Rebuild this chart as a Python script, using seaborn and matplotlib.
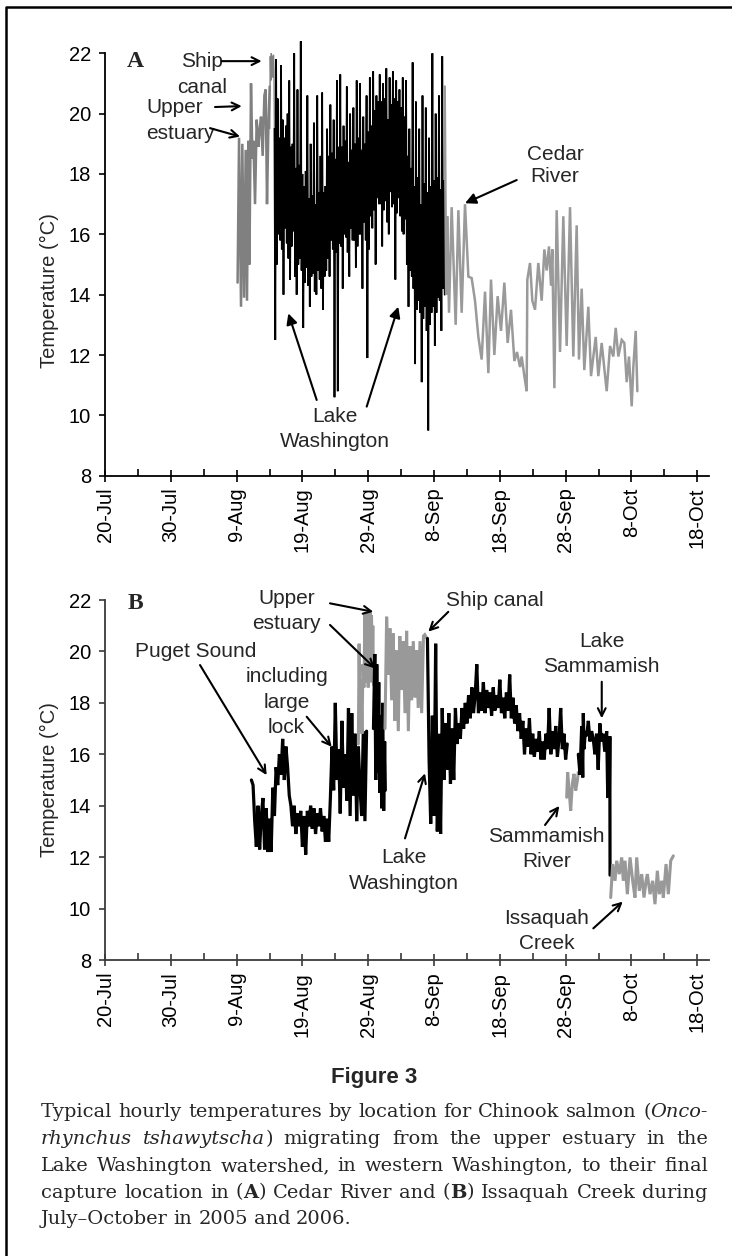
import re
import numpy as np
import matplotlib
matplotlib.use("Agg")
import matplotlib.pyplot as plt
import seaborn as sns
from matplotlib.lines import Line2D

sns.set_style("ticks")
plt.rcParams['font.family'] = ['Liberation Sans', 'DejaVu Sans']

# ---------------- axis values (days since 20-Jul) ----------------
tick_days = [0, 10, 20, 30, 40, 50, 60, 70, 80, 90]
tick_labels = ["20-Jul", "30-Jul", "9-Aug", "19-Aug", "29-Aug",
               "8-Sep", "18-Sep", "28-Sep", "8-Oct", "18-Oct"]
minor_days = [5, 15, 25, 35, 45, 55, 65, 75, 85]
y_ticks = [8, 10, 12, 14, 16, 18, 20, 22]

# ---------------- Panel A (Cedar River fish) ----------------
A_estuary_day = [20.15, 20.37, 20.67, 20.87, 21.13, 21.38, 21.58, 21.79, 21.95, 22.19,
                 22.40, 22.55, 22.80, 23.05, 23.31, 23.51, 23.71, 23.96, 24.22, 24.42,
                 24.62, 24.83, 25.03]
A_estuary_temp = [14.4, 19.2, 13.6, 19.0, 13.9, 18.8, 13.8, 19.1, 15.0, 21.0,
                  18.5, 19.1, 17.0, 19.8, 18.9, 19.5, 19.9, 18.6, 20.6, 20.8,
                  17.0, 19.6, 20.9]

A_canal_day = [25.03, 25.12, 25.20, 25.28, 25.36, 25.44, 25.52, 25.60, 25.68, 25.75]
A_canal_temp = [19.5, 21.9, 21.1, 22.0, 21.3, 21.9, 21.2, 21.95, 21.4, 19.5]

# Lake Washington, 3-hourly samples starting day 25.75
A_lake_start = 25.75
A_lake_per_day = 8
A_lake_temp = [
    19.5, 12.5, 21.8, 15.0, 20.5, 16.0, 19.2, 15.8,
    21.6, 15.5, 19.8, 14.0, 19.2, 16.2, 19.6, 15.7,
    20.0, 15.2, 21.1, 14.5, 18.9, 15.6, 19.0, 16.1,
    22.0, 14.6, 18.2, 14.0, 20.8, 15.0, 18.3, 15.2,
    22.4, 14.8, 18.0, 12.9, 17.6, 14.4, 18.1, 14.9,
    20.6, 14.3, 17.2, 13.6, 19.0, 14.6, 17.3, 14.7,
    19.7, 14.1, 17.0, 14.0, 20.6, 14.8, 17.4, 14.5,
    18.6, 14.2, 20.7, 13.5, 17.4, 14.6, 17.6, 14.8,
    19.5, 15.2, 18.6, 14.6, 20.3, 15.8, 18.7, 15.5,
    19.8, 10.6, 18.5, 15.4, 21.1, 10.8, 18.9, 15.7,
    21.3, 15.6, 18.9, 14.2, 19.6, 16.0, 19.1, 15.9,
    20.9, 15.4, 18.4, 14.6, 20.0, 16.2, 18.8, 15.8,
    20.2, 15.8, 19.0, 14.9, 21.1, 15.6, 19.2, 16.0,
    21.0, 16.0, 18.8, 14.2, 19.9, 16.4, 19.0, 15.8,
    20.6, 11.9, 19.4, 15.5, 21.2, 16.6, 19.6, 16.2,
    21.4, 16.8, 20.1, 15.0, 20.6, 17.2, 20.4, 17.0,
    21.3, 17.0, 20.4, 15.6, 21.0, 16.8, 20.5, 17.1,
    21.5, 16.4, 19.8, 16.0, 21.2, 17.4, 20.3, 16.9,
    21.4, 17.0, 20.5, 14.5, 21.1, 16.7, 20.4, 17.2,
    20.8, 16.6, 20.2, 16.1, 21.2, 16.0, 19.9, 16.5,
    21.1, 15.0, 18.6, 13.6, 19.5, 14.8, 18.2, 14.6,
    21.7, 14.2, 17.6, 11.7, 20.4, 13.5, 17.9, 13.8,
    19.5, 13.4, 17.0, 11.1, 20.6, 13.2, 17.7, 13.6,
    20.2, 12.8, 17.4, 9.5, 19.2, 13.0, 17.6, 13.4,
    22.0, 13.6, 17.8, 12.3, 20.0, 13.4, 17.9, 13.9,
    20.6, 13.8, 17.5, 12.8, 21.9, 14.2, 17.8, 14.0,
]

A_cedar_day = [51.62, 51.85, 52.00, 52.28, 52.68, 53.29, 53.70, 54.20, 54.71, 55.22,
               55.72, 56.23, 56.74, 57.24, 57.75, 58.26, 58.66, 59.17, 59.67, 60.18,
               60.69, 61.19, 61.70, 62.21, 62.61, 63.07, 63.32, 63.73, 64.08, 64.18,
               64.59, 64.94, 65.35, 65.85, 66.36, 66.77, 67.12, 67.47, 67.78, 67.98,
               68.29, 68.64, 69.15, 69.65, 70.16, 70.67, 71.17, 71.68, 72.03, 72.44,
               72.84, 73.45, 73.86, 74.57, 74.97, 75.48, 76.24, 76.75, 77.25, 77.61,
               78.01, 78.52, 78.92, 79.28, 79.63, 80.04, 80.29, 80.65, 80.90]
A_cedar_temp = [20.9, 14.0, 16.6, 13.4, 16.9, 13.0, 16.8, 13.4, 17.0, 14.6,
                14.55, 13.8, 12.6, 11.85, 14.1, 11.4, 14.5, 12.0, 13.95, 12.8,
                14.4, 12.4, 13.5, 11.8, 12.1, 11.6, 11.95, 11.3, 10.8, 14.5,
                15.05, 13.8, 13.5, 15.05, 13.8, 15.5, 14.8, 15.6, 14.3, 15.5,
                10.9, 16.8, 12.1, 16.6, 12.3, 16.9, 11.95, 16.3, 11.85, 14.2,
                11.5, 13.6, 11.3, 12.6, 11.3, 12.4, 10.8, 12.3, 11.95, 12.9,
                11.95, 12.5, 12.4, 11.1, 11.95, 10.3, 11.6, 12.8, 10.8]

# ---------------- Panel B (Issaquah Creek fish) ----------------
# Puget Sound incl. large lock, 6-hourly samples starting day 22.25
B_puget_start = 22.25
B_puget_per_day = 4
B_puget_temp = [
    15.0, 14.8, 13.4, 12.4, 14.0, 12.3, 13.6, 14.3, 12.3, 13.9,
    12.2, 13.5, 12.2, 14.7, 13.6, 15.5, 14.8, 16.0, 15.2, 16.6,
    15.0, 16.3, 15.5, 14.4, 14.0, 13.2, 14.0, 12.9, 13.7, 13.2,
    13.8, 12.4, 13.6, 12.1, 13.8, 13.2, 14.0, 13.1, 13.9, 12.9,
    13.7, 13.2, 13.9, 13.0, 13.6, 12.6, 13.5, 12.6, 14.3, 16.3,
    14.6, 18.0, 15.0, 16.2, 13.7, 17.3, 14.7, 16.0, 14.2, 17.8,
    13.6, 17.6, 14.4, 16.8, 13.4, 16.3, 14.7, 13.6, 16.9, 13.4,
    16.9,
]

B_estuary1_day = [38.50, 38.62, 38.75, 38.90, 39.05, 39.20, 39.35, 39.50, 39.60, 39.70,
                  39.80, 39.90, 40.00, 40.10, 40.20, 40.30, 40.40, 40.50, 40.60, 40.70,
                  40.80]
B_estuary1_temp = [16.4, 20.3, 17.1, 18.9, 16.8, 19.5, 18.6, 21.5, 18.8, 21.5,
                   19.0, 21.5, 18.6, 21.4, 19.2, 21.5, 18.8, 21.4, 19.5, 21.0,
                   18.7]

B_estuary_black_day = [40.80, 41.00, 41.15, 41.30, 41.45, 41.60, 41.75, 41.90, 42.05, 42.20,
                       42.35, 42.50, 42.60]
B_estuary_black_temp = [17.0, 19.9, 15.0, 19.5, 15.3, 18.8, 14.5, 17.5, 13.9, 18.0,
                        13.8, 16.5, 14.6]

B_estuary2_day = [42.55, 42.80, 43.05, 43.30, 43.56, 43.80, 44.07, 44.30, 44.57, 44.80,
                  45.08, 45.33, 45.59, 45.84, 46.10, 46.35, 46.60, 46.85, 47.10, 47.36,
                  47.60, 47.87, 48.12, 48.40, 48.60, 48.80, 49.00]
B_estuary2_temp = [17.0, 21.35, 19.1, 20.9, 18.1, 20.7, 17.3, 20.05, 16.9, 20.6,
                   18.5, 20.4, 17.6, 20.8, 16.9, 20.2, 18.1, 20.4, 18.2, 20.05,
                   17.8, 20.4, 17.6, 20.6, 20.65, 20.55, 20.5]

# Lake Washington, 6-hourly samples starting day 49.0
B_lakewa_start = 49.0
B_lakewa_per_day = 4
B_lakewa_temp = [
    20.5, 15.8, 13.3, 17.5, 13.6, 20.3, 13.0, 16.8, 12.9, 17.8,
    15.0, 17.2, 15.4, 17.6, 14.85, 17.0, 15.0, 17.8, 16.4, 17.2,
    16.6, 17.8, 17.0, 18.0, 17.2, 18.3, 17.4, 18.6, 17.6, 18.3,
    19.5, 17.6, 18.4, 17.7, 18.8, 17.6, 18.5, 17.8, 18.4, 17.5,
    18.6, 17.7, 18.3, 17.8, 18.9, 17.6, 18.2, 17.4, 18.4, 17.7,
    19.1, 17.4, 18.2, 17.2, 17.9, 16.9, 17.6, 16.6, 17.3, 16.0,
    17.0, 16.3, 17.4, 16.0, 16.8, 15.9, 16.6, 16.1, 16.9, 15.8,
    16.5, 15.8, 16.8, 16.2, 17.8, 16.0, 16.9, 16.2, 17.1, 15.9,
    16.6, 17.8, 16.2, 16.8, 15.8, 16.4,
]

B_sammR_day = [70.16, 70.31, 70.57, 70.77, 71.02, 71.27, 71.53, 71.78, 71.93]
B_sammR_temp = [14.33, 15.3, 14.46, 13.81, 14.85, 15.24, 14.59, 14.98, 15.3]

B_lakeS_day = [71.93, 72.19, 72.44, 72.60, 72.69, 72.80, 73.00, 73.20, 73.45, 73.70,
               73.95, 74.20, 74.45, 74.70, 74.95, 75.20, 75.45, 75.70, 75.95, 76.24,
               76.40, 76.50, 76.65, 76.72, 76.75]
B_lakeS_temp = [16.0, 15.2, 17.1, 15.1, 17.6, 16.2, 16.9, 16.7, 17.3, 16.5,
                16.9, 16.6, 16.0, 16.8, 15.4, 17.2, 16.5, 16.8, 16.1, 16.9,
                14.3, 16.5, 14.5, 16.7, 11.3]

B_issaquah_day = [76.85, 77.15, 77.51, 77.76, 78.16, 78.52, 78.77, 79.03, 79.38, 79.79,
                  80.19, 80.54, 80.80, 81.20, 81.56, 81.91, 82.22, 82.42, 82.83, 83.23,
                  83.58, 83.94, 84.24, 84.60, 84.85, 85.26, 85.61, 85.97, 86.37]
B_issaquah_temp = [10.43, 11.73, 11.08, 11.86, 11.34, 11.99, 11.08, 11.86, 10.56, 11.99,
                   11.08, 10.43, 11.99, 10.69, 11.34, 10.43, 11.08, 11.34, 10.56, 11.08,
                   10.17, 11.47, 10.56, 11.08, 10.43, 11.73, 10.56, 11.86, 12.05]

caption_lines = [
    "Typical hourly temperatures by location for Chinook salmon (*Onco-*",
    "*rhynchus* *tshawytscha*) migrating from the upper estuary in the",
    "Lake Washington watershed, in western Washington, to their final",
    "capture location in (**A**) Cedar River and (**B**) Issaquah Creek during",
    "July–October in 2005 and 2006.",
]

# ---------------- figure ----------------
W, H = 732, 1256
fig = plt.figure(figsize=(W / 100, H / 100), dpi=100)
fig.patch.set_facecolor("white")

X_LEFT, X_RIGHT = 105, 709.4
XMAX = 91.85
YMIN, YMAX = 8, 22.7


def make_axes(y8, y22):
    ppd = (y8 - y22) / 14.0
    ytop = y8 - (YMAX - YMIN) * ppd
    ax = fig.add_axes([X_LEFT / W, 1 - y8 / H, (X_RIGHT - X_LEFT) / W, (y8 - ytop) / H])
    ax.set_xlim(0, XMAX)
    ax.set_ylim(YMIN, YMAX)
    ax.patch.set_alpha(0)
    return ax


axA = make_axes(475.7, 53.3)
axB = make_axes(960.0, 600.0)


def seg(ax, x, y, color, lw):
    sns.lineplot(x=np.asarray(x, float), y=np.asarray(y, float), ax=ax, color=color,
                 linewidth=lw, estimator=None, sort=False, legend=False,
                 solid_joinstyle='miter')


A_lake_day = A_lake_start + np.arange(len(A_lake_temp)) / A_lake_per_day
B_puget_day = B_puget_start + np.arange(len(B_puget_temp)) / B_puget_per_day
B_lakewa_day = B_lakewa_start + np.arange(len(B_lakewa_temp)) / B_lakewa_per_day

GA = "#808080"
GC = "#9a9a9a"
seg(axA, A_estuary_day, A_estuary_temp, GA, 1.8)
seg(axA, A_canal_day, A_canal_temp, GA, 1.0)
seg(axA, A_lake_day, A_lake_temp, "black", 1.3)
seg(axA, A_cedar_day, A_cedar_temp, GC, 1.8)

GB = "#999999"
seg(axB, B_puget_day, B_puget_temp, "black", 2.3)
seg(axB, B_estuary1_day, B_estuary1_temp, GB, 2.2)
seg(axB, B_estuary_black_day, B_estuary_black_temp, "black", 2.3)
seg(axB, B_estuary2_day, B_estuary2_temp, GB, 2.2)
seg(axB, B_lakewa_day, B_lakewa_temp, "black", 2.3)
seg(axB, B_sammR_day, B_sammR_temp, GB, 2.2)
seg(axB, B_lakeS_day, B_lakeS_temp, "black", 2.3)
seg(axB, B_issaquah_day, B_issaquah_temp, GB, 2.2)

for ax, scol in ((axA, "black"), (axB, "#3a3a3a")):
    ax.spines['top'].set_visible(False)
    ax.spines['right'].set_visible(False)
    ax.spines['left'].set_bounds(8, 22)
    for s in ('left', 'bottom'):
        ax.spines[s].set_linewidth(1.3)
        ax.spines[s].set_color(scol)
    ax.set_xticks(tick_days)
    ax.set_xticklabels(tick_labels, rotation=90)
    ax.set_xticks(minor_days, minor=True)
    ax.set_yticks(y_ticks)
    ax.set_yticklabels([str(v) for v in y_ticks])
    ax.tick_params(axis='x', which='major', direction='inout', length=9, width=1.2,
                   pad=4, labelsize=14.5, colors=scol, labelcolor='black')
    ax.tick_params(axis='x', which='minor', direction='in', length=5, width=1.2, colors=scol)
    ax.tick_params(axis='y', direction='out', length=4, width=1.2, pad=6,
                   labelsize=14.5, colors=scol, labelcolor='black')
    ax.set_xlabel("")
    ax.set_ylabel("")

# y labels
fig.text(49 / W, 1 - 290.8 / H, "Temperature (°C)", rotation=90, ha='center', va='center', fontsize=14.5)
fig.text(49 / W, 1 - 779.5 / H, "Temperature (°C)", rotation=90, ha='center', va='center', fontsize=14.5)

AF = 15
# panel letters
axA.text(4.56, 21.72, "A", family='Liberation Serif', weight='bold', fontsize=17, ha='center', va='center')
axB.text(4.56, 21.87, "B", family='Liberation Serif', weight='bold', fontsize=17, ha='center', va='center')


def label(ax, x, y, s):
    ax.text(x, y, s, fontsize=AF, ha='center', va='center')


def arrow(ax, tail, tip, style='-|>', ms=16):
    ax.annotate("", xy=tip, xytext=tail,
                arrowprops=dict(arrowstyle=style, color='black', lw=1.5,
                                mutation_scale=ms, shrinkA=0, shrinkB=0))


# Panel A annotations
label(axA, 14.70, 21.72, "Ship")
label(axA, 14.70, 20.87, "canal")
arrow(axA, (17.74, 21.74), (23.81, 21.74), '->', 14)
label(axA, 10.64, 20.21, "Upper")
arrow(axA, (16.72, 20.22), (20.78, 20.25), '->', 14)
label(axA, 11.40, 19.35, "estuary")
arrow(axA, (15.96, 19.52), (20.52, 19.24), '->', 14)
label(axA, 68.39, 18.63, "Cedar")
label(axA, 68.39, 17.91, "River")
arrow(axA, (62.57, 17.80), (54.71, 17.03))
label(axA, 34.95, 9.955, "Lake")
label(axA, 34.95, 9.13, "Washington")
arrow(axA, (32.17, 10.51), (27.86, 13.38))
arrow(axA, (39.77, 10.29), (44.57, 13.60))

# Panel B annotations
label(axB, 13.83, 19.99, "Puget Sound")
arrow(axB, (14.44, 19.47), (24.57, 15.19), '->', 14)
label(axB, 27.61, 19.02, "including")
label(axB, 27.61, 18.02, "large")
label(axB, 27.61, 17.03, "lock")
arrow(axB, (30.65, 17.46), (34.45, 16.29), '->', 14)
label(axB, 27.61, 22.07, "Upper")
label(axB, 27.61, 21.09, "estuary")
arrow(axB, (34.19, 21.87), (40.78, 21.54), '->', 14)
arrow(axB, (34.19, 21.03), (41.03, 19.34), '->', 14)
label(axB, 59.27, 22.0, "Ship canal")
arrow(axB, (52.17, 21.54), (49.13, 20.77), '->', 14)
label(axB, 45.44, 12.0, "Lake")
label(axB, 45.44, 10.99, "Washington")
arrow(axB, (45.59, 12.73), (48.63, 15.26), '->', 14)
label(axB, 75.49, 20.38, "Lake")
label(axB, 75.49, 19.41, "Sammamish")
arrow(axB, (75.49, 18.82), (75.49, 17.40), '->', 14)
label(axB, 67.13, 12.79, "Sammamish")
label(axB, 67.13, 11.82, "River")
arrow(axB, (66.87, 13.25), (69.04, 13.99), '->', 14)
label(axB, 67.13, 9.62, "Issaquah")
label(axB, 67.13, 8.66, "Creek")
arrow(axB, (74.21, 9.23), (78.68, 10.27), '->', 14)

# Figure title
fig.text(374 / W, 1 - 1078 / H, "Figure 3", ha='center', va='center', fontsize=16,
         weight='bold', family=['Liberation Sans Narrow', 'Liberation Sans'])

# caption, justified
renderer = fig.canvas.get_renderer()
CX0, CX1 = 41, 708
CFAM = 'DejaVu Serif'


def parse_word(w):
    parts = re.split(r'(\*\*[^*]+\*\*|\*[^*]+\*)', w)
    out = []
    for p in parts:
        if not p:
            continue
        if p.startswith('**'):
            out.append((p[2:-2], 'bold', 'normal'))
        elif p.startswith('*'):
            out.append((p[1:-1], 'normal', 'italic'))
        else:
            out.append((p, 'normal', 'normal'))
    return out


def measure(txt, wt, st, fs):
    t = fig.text(0, 0, txt, fontsize=fs, family=CFAM, weight=wt, style=st)
    w = t.get_window_extent(renderer).width
    t.remove()
    return w


def natural_width(line, fs):
    words = [parse_word(w) for w in line.split(' ')]
    tot = sum(measure(txt, wt, st, fs) for segs in words for txt, wt, st in segs)
    return tot + (len(words) - 1) * 0.30 * fs * 100 / 72


ref_fs = 10.0
CFS = min(ref_fs * (CX1 - CX0) / natural_width(ln, ref_fs) for ln in caption_lines[:-1]) * 0.995


def put_line(line, y_px, justify):
    words = [parse_word(w) for w in line.split(' ')]
    objs, widths = [], []
    for segs in words:
        wo, tw = [], 0.0
        for txt, wt, st in segs:
            t = fig.text(0, 1 - y_px / H, txt, fontsize=CFS, family=CFAM,
                         weight=wt, style=st, va='baseline', ha='left')
            bw = t.get_window_extent(renderer).width
            wo.append((t, bw))
            tw += bw
        objs.append(wo)
        widths.append(tw)
    if justify:
        gap = (CX1 - CX0 - sum(widths)) / (len(words) - 1)
    else:
        gap = 0.30 * CFS * 100 / 72
    x = CX0
    for wo, tw in zip(objs, widths):
        for t, bw in wo:
            t.set_x(x / W)
            x += bw
        x += gap
    return gap


base_y = [1117, 1144, 1171, 1197.5, 1224]
for i, (ln, by) in enumerate(zip(caption_lines, base_y)):
    put_line(ln, by, i < len(caption_lines) - 1)

# frame
fig.add_artist(Line2D([6 / W, 6 / W, 1.0], [0.0, 1 - 7 / H, 1 - 7 / H],
                      transform=fig.transFigure, color='black', lw=1.8))

fig.savefig("out.png", dpi=100, facecolor='white')
